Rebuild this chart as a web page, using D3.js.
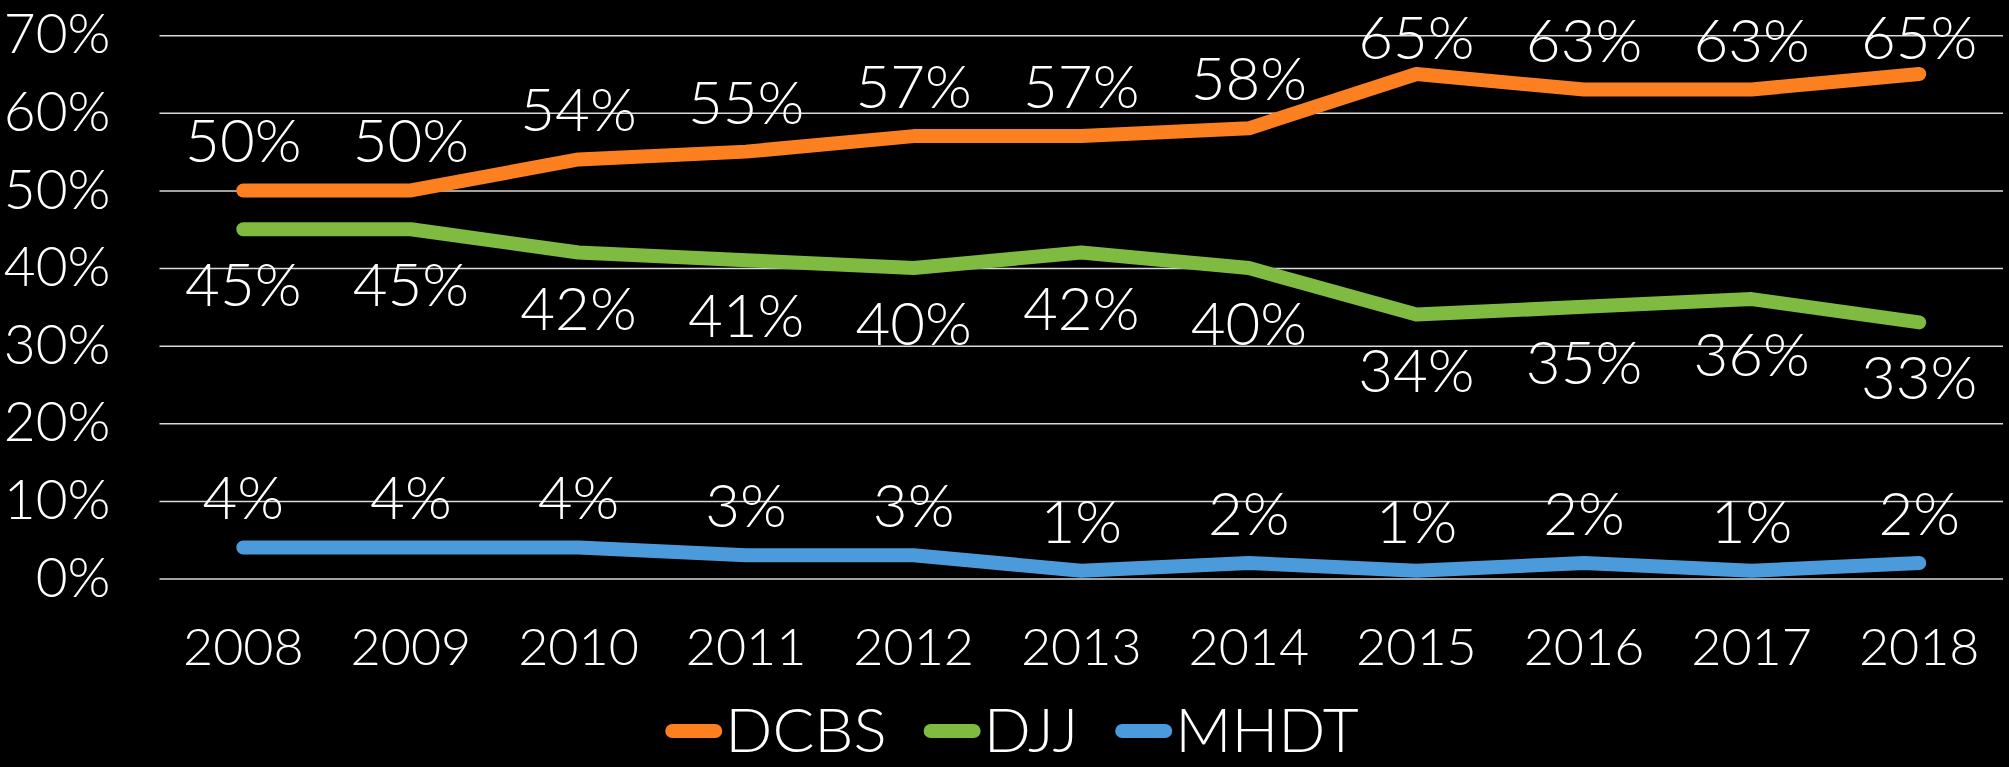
<!DOCTYPE html>
<html>
<head>
<meta charset="utf-8">
<script src="https://cdn.jsdelivr.net/npm/d3@7.9.0/dist/d3.min.js"></script>
<style>
  html, body { margin: 0; padding: 0; background: #000; }
  svg { display: block; }
  text { font-family: Lato, "Open Sans", sans-serif; font-weight: 300; fill: #fff; }
</style>
</head>
<body>
<svg id="chart"></svg>
<script>
const width = 2009;
const height = 767;

// chart data
const years = ['2008', '2009', '2010', '2011', '2012', '2013', '2014', '2015', '2016', '2017', '2018'];
const dcbs = [50, 50, 54, 55, 57, 57, 58, 65, 63, 63, 65];
const djj = [45, 45, 42, 41, 40, 42, 40, 34, 35, 36, 33];
const mhdt = [4, 4, 4, 3, 3, 1, 2, 1, 2, 1, 2];
const yTicks = [0, 10, 20, 30, 40, 50, 60, 70];

const series = [
    { name: 'DCBS', values: dcbs, color: '#fd8020', labelPos: 'above' },
    { name: 'DJJ', values: djj, color: '#80bb41', labelPos: 'below' },
    { name: 'MHDT', values: mhdt, color: '#4b9bdc', labelPos: 'above' }
];

const svg = d3.select('#chart').attr('width', width).attr('height', height);

const plotLeft = 159.5, plotRight = 2003, plotTop = 35.2, plotBottom = 578.5;

const x = d3.scaleBand().domain(years).range([plotLeft, plotRight]);
const y = d3.scaleLinear().domain([0, 70]).range([plotBottom, plotTop]);
const cx = d => x(d) + x.bandwidth() / 2;

// y axis + gridlines
const yAxis = svg.append('g')
    .attr('transform', `translate(${plotLeft},0)`)
    .call(d3.axisLeft(y)
        .tickValues(yTicks)
        .tickFormat(d => d + '%')
        .tickSize(-(plotRight - plotLeft))
        .tickPadding(49));
yAxis.select('.domain').remove();
yAxis.selectAll('line').attr('stroke', '#d9d9d9').attr('stroke-width', 1.5);
yAxis.selectAll('text')
    .style('font-size', '55px')
    .attr('fill', '#fff');

// x axis labels
const xAxis = svg.append('g')
    .attr('transform', `translate(0,${plotBottom})`)
    .call(d3.axisBottom(x).tickSize(0));
xAxis.select('.domain').remove();
xAxis.selectAll('text')
    .attr('y', 86.5)
    .attr('dy', 0)
    .attr('fill', '#fff')
    .style('font-size', '52px');

// lines
const line = d3.line()
    .x((d, i) => cx(years[i]))
    .y(d => y(d));

series.forEach(s => {
    svg.append('path')
        .datum(s.values)
        .attr('d', line)
        .attr('fill', 'none')
        .attr('stroke', s.color)
        .attr('stroke-width', 14)
        .attr('stroke-linecap', 'round')
        .attr('stroke-linejoin', 'round');
});

// data labels (kept inside the top of the plot, like the original)
series.forEach(s => {
    svg.append('g').selectAll('text')
        .data(s.values)
        .join('text')
        .attr('x', (d, i) => cx(years[i]))
        .attr('y', d => s.labelPos === 'above' ? Math.max(y(d) - 28, 59) : y(d) + 77)
        .attr('text-anchor', 'middle')
        .style('font-size', '60px')
        .text(d => d + '%');
});

// legend
const legend = svg.append('g');
const gap = 37;
let lx = 0;
series.forEach(s => {
    const item = legend.append('g').attr('transform', `translate(${lx},0)`);
    item.append('line')
        .attr('x1', 7).attr('x2', 50)
        .attr('y1', 731).attr('y2', 731)
        .attr('stroke', s.color)
        .attr('stroke-width', 14)
        .attr('stroke-linecap', 'round');
    const t = item.append('text')
        .attr('x', 60)
        .attr('y', 752)
        .style('font-size', '62px')
        .text(s.name);
    lx += 60 + t.node().getComputedTextLength() + gap;
});
const legendW = lx - gap;
legend.attr('transform', `translate(${1012 - legendW / 2},0)`);
</script>
</body>
</html>
